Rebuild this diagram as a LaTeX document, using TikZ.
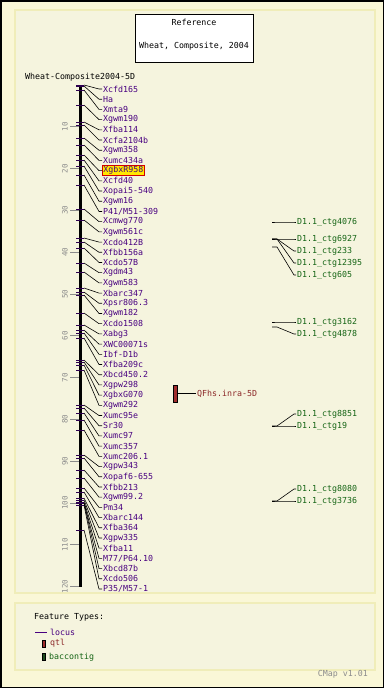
\documentclass[tikz,border=0pt]{standalone}
\usepackage{fontspec}
\setmonofont{DejaVu Sans Mono}
\definecolor{outerbg}{RGB}{250,247,215}
\definecolor{panelbg}{RGB}{245,244,222}
\definecolor{panelbd}{RGB}{240,237,185}
\definecolor{locuscol}{RGB}{72,0,128}
\definecolor{tickcol}{RGB}{45,0,80}
\definecolor{qtlcol}{RGB}{140,40,40}
\definecolor{qtlfill}{RGB}{160,45,45}
\definecolor{ctgcol}{RGB}{20,100,20}
\definecolor{ctgfill}{RGB}{30,75,30}
\definecolor{axisgray}{RGB}{140,140,140}
\definecolor{hlfill}{RGB}{255,232,0}
\definecolor{hlborder}{RGB}{210,0,0}
\tikzset{
  txt/.style={font=\ttfamily\fontsize{8.3}{10}\selectfont, inner sep=0pt},
  mlabel/.style={txt, anchor=west, text=locuscol, inner xsep=1pt},
  clabel/.style={txt, anchor=west, text=ctgcol, inner xsep=1pt},
  hl/.style={fill=hlfill, draw=hlborder, line width=0.8pt, inner ysep=0.8pt},
  plain/.style={},
  conn/.style={draw=black, line width=0.6pt},
  mtick/.style={draw=tickcol, line width=0.9pt},
  majtick/.style={draw=axisgray, line width=0.9pt},
  ticklab/.style={font=\ttfamily\fontsize{7.5}{9}\selectfont, text=axisgray, rotate=90, inner sep=0pt},
  panel/.style={fill=panelbg, draw=panelbd, line width=1.2pt}
}
\begin{document}
\begin{tikzpicture}[x=1pt,y=-1pt]
\useasboundingbox (0,0) rectangle (384,688);
% backgrounds
\fill[outerbg] (0,0) rectangle (384,688);
\draw[black, line width=1.5pt] (0.75,0.75) rectangle (383.25,687.25);
\draw[panel] (15,10) rectangle (375,593);
\draw[panel] (15,603) rectangle (375,670);
% title box
\draw[fill=white, draw=black, line width=0.8pt] (135,14) rectangle (253,62);
\node[txt] (title1) at (194,22) {Reference};
\node[txt] (title2) at (194,46) {Wheat, Composite, 2004};
\node[txt, anchor=west] (mapname) at (25,77) {Wheat-Composite2004-5D};
% axis
\draw[black, line width=3pt] (80,85) -- (80,587);
\foreach \v in {10,20,...,120} {
  \pgfmathsetmacro\yy{85+\v*4.18}
  \draw[majtick] (70,\yy) -- (79,\yy);
  \node[ticklab] (tl\v) at (65,\yy) {\v};
}
% markers
\foreach \lab/\pos [count=\i] in {Xcfd165/85, Ha/86, Xmta9/90, Xgwm190/105, Xfba114/122, Xcfa2104b/125, Xgwm358/138, Xumc434a/145, XgbxR958/155, Xcfd40/160, Xopai5-540/166, Xgwm16/175, {P41/M51-309}/185, Xcmwg770/209, Xgwm561c/220, Xcdo412B/238, Xfbb156a/242, Xcdo57B/248, Xgdm43/263, Xgwm583/272, Xbarc347/288, Xpsr806.3/292, Xgwm182/295, Xcdo1508/313, Xabg3/325, XWC00071s/330, Ibf-D1b/333, Xfba209c/338, Xbcd450.2/360, Xgpw298/362, XgbxG070/365, Xgwm292/370, Xumc95e/405, Sr30/408, Xumc97/413, Xumc357/420, Xumc206.1/430, Xgpw343/455, Xopaf6-655/458, Xfbb213/470, Xgwm99.2/478, Pm34/488, Xbarc144/492, Xfba364/498, Xgpw335/500, Xfba11/502, {M77/P64.10}/503, Xbcd87b/503, Xcdo506/505, {P35/M57-1}/530} {
  \pgfmathsetmacro\ly{89+(\i-1)*10.204}
  \ifnum\i=9 \def\sty{hl}\else\def\sty{plain}\fi
  \node[mlabel,\sty] (m\i) at (102,\ly) {\lab};
  \coordinate (t\i) at (84,\pos);
  \draw[mtick] (76,\pos) -- (t\i);
  \draw[conn] (t\i) -- (99,\ly) -- (m\i.west);
}
% QTL
\draw[fill=qtlfill, draw=black, line width=0.6pt] (173,385) rectangle (177,402);
\coordinate (qtlr) at (177,393.5);
\node[txt, anchor=west, text=qtlcol, inner xsep=1pt] (qtl) at (196,393.5) {QFhs.inra-5D};
\draw[conn] (qtlr) -- (qtl.west);
% contigs
\foreach \lab/\pos/\ly [count=\i] in {D1.1\_ctg4076/222/222, D1.1\_ctg6927/239/239, D1.1\_ctg233/239/251, D1.1\_ctg12395/239/263, D1.1\_ctg605/247/275, D1.1\_ctg3162/322/322, D1.1\_ctg4878/327/334, D1.1\_ctg8851/426/414, D1.1\_ctg19/426/426, D1.1\_ctg8080/501/489, D1.1\_ctg3736/501/501} {
  \node[clabel] (c\i) at (296,\ly) {\lab};
  \coordinate (cs\i) at (272,\pos);
  \draw[conn] (cs\i) -- (277,\pos) -- (294,\ly) -- (c\i.west);
}
% legend
\node[txt, anchor=west] (ft) at (34,617) {Feature Types:};
\coordinate (la) at (35,632);
\coordinate (lb) at (47,632);
\draw[locuscol, line width=0.8pt] (la) -- (lb);
\node[txt, anchor=west, text=locuscol] (leglocus) at (50,632) {locus};
\draw[fill=qtlfill, draw=black, line width=0.5pt] (42.5,640) rectangle (45.5,647);
\node[txt, anchor=west, text=qtlcol] (legqtl) at (50,643.5) {qtl};
\draw[fill=ctgfill, draw=black, line width=0.5pt] (42.5,653) rectangle (45.5,660.5);
\node[txt, anchor=west, text=ctgcol] (legctg) at (49,657) {baccontig};
\node[txt, anchor=east, text=axisgray] (cmap) at (368,674) {CMap v1.01};
\end{tikzpicture}
\end{document}
